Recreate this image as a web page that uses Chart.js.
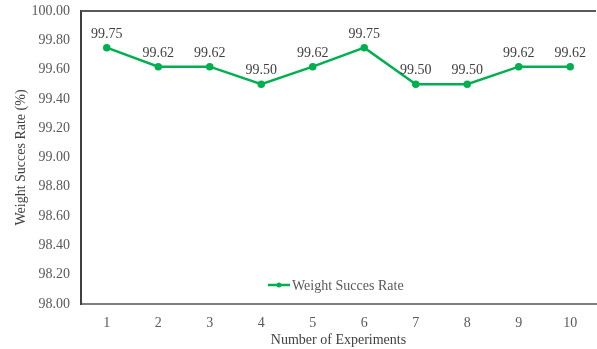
<!DOCTYPE html>
<html>
<head>
<meta charset="utf-8">
<script src="https://cdn.jsdelivr.net/npm/chart.js@4/dist/chart.umd.min.js"></script>
<style>
  html, body { margin: 0; padding: 0; background: #fff; overflow: hidden; }
  #wrap { width: 601px; height: 349px; }
</style>
</head>
<body>
<div id="wrap"><canvas id="c" width="601" height="349"></canvas></div>
<script>
// Experiment numbers and the weighing success rate measured in each run
const experiments = ['1', '2', '3', '4', '5', '6', '7', '8', '9', '10'];
const successRate = [99.75, 99.62, 99.62, 99.50, 99.62, 99.75, 99.50, 99.50, 99.62, 99.62];
const yTicks = [98.00, 98.20, 98.40, 98.60, 98.80, 99.00, 99.20, 99.40, 99.60, 99.80, 100.00];
const seriesName = 'Weight Succes Rate';

const FONT = '"Liberation Serif", "Times New Roman", serif';
const GREEN = '#00B050';

// Value labels above each point, frame top edge and the inline legend
const decorations = {
  id: 'decorations',
  afterDatasetsDraw(chart) {
    const ctx = chart.ctx;
    const area = chart.chartArea;
    const meta = chart.getDatasetMeta(0);
    ctx.save();
    ctx.font = '14px ' + FONT;
    ctx.fillStyle = '#404040';
    ctx.textAlign = 'center';
    ctx.textBaseline = 'alphabetic';
    meta.data.forEach((pt, i) => {
      ctx.fillText(successRate[i].toFixed(2), pt.x, pt.y - 10);
    });

    // top edge of the plot frame
    ctx.strokeStyle = '#595959';
    ctx.lineWidth = 2;
    ctx.beginPath();
    ctx.moveTo(area.left, area.top);
    ctx.lineTo(area.right, area.top);
    ctx.stroke();

    // legend entry inside the plot area
    const ly = 285;
    ctx.strokeStyle = GREEN;
    ctx.lineWidth = 2.5;
    ctx.beginPath();
    ctx.moveTo(268, ly);
    ctx.lineTo(290, ly);
    ctx.stroke();
    ctx.fillStyle = GREEN;
    ctx.beginPath();
    ctx.arc(279, ly, 2.5, 0, Math.PI * 2);
    ctx.fill();
    ctx.fillStyle = '#595959';
    ctx.textAlign = 'left';
    ctx.textBaseline = 'middle';
    ctx.fillText(seriesName, 292, ly + 1);
    ctx.restore();
  }
};

new Chart(document.getElementById('c'), {
  type: 'line',
  data: {
    labels: experiments,
    datasets: [{
      label: seriesName,
      data: successRate,
      borderColor: GREEN,
      backgroundColor: GREEN,
      borderWidth: 2.5,
      pointRadius: 2.5,
      pointHoverRadius: 2.5,
      tension: 0
    }]
  },
  options: {
    responsive: false,
    animation: false,
    layout: { padding: { top: 11, right: 0, left: 0, bottom: 0 } },
    plugins: { legend: { display: false }, tooltip: { enabled: false } },
    scales: {
      x: {
        offset: true,
        grid: { display: false, drawTicks: false },
        border: { display: true, color: '#7f7f7f', width: 2 },
        ticks: { color: '#595959', font: { family: FONT, size: 14 }, padding: 11 },
        title: { display: true, text: 'Number of Experiments', color: '#404040',
                 font: { family: FONT, size: 14 }, padding: { top: 4, bottom: 0 } },
        afterFit(s) { s.height = 45; s.paddingLeft = 0; s.paddingRight = 0; }
      },
      y: {
        min: 98,
        max: 100,
        afterBuildTicks(s) { s.ticks = yTicks.map(v => ({ value: v })); },
        grid: { display: false, drawTicks: false },
        border: { display: true, color: '#404040', width: 2 },
        ticks: {
          color: '#595959',
          font: { family: FONT, size: 14 },
          padding: 11,
          callback: v => Number(v).toFixed(2)
        },
        title: { display: true, text: 'Weight Succes Rate (%)', color: '#404040',
                 font: { family: FONT, size: 14 }, padding: { top: 13, bottom: 0 } },
        afterFit(s) { s.width = 81; s.paddingTop = 0; s.paddingBottom = 0; }
      }
    }
  },
  plugins: [decorations]
});
</script>
</body>
</html>
